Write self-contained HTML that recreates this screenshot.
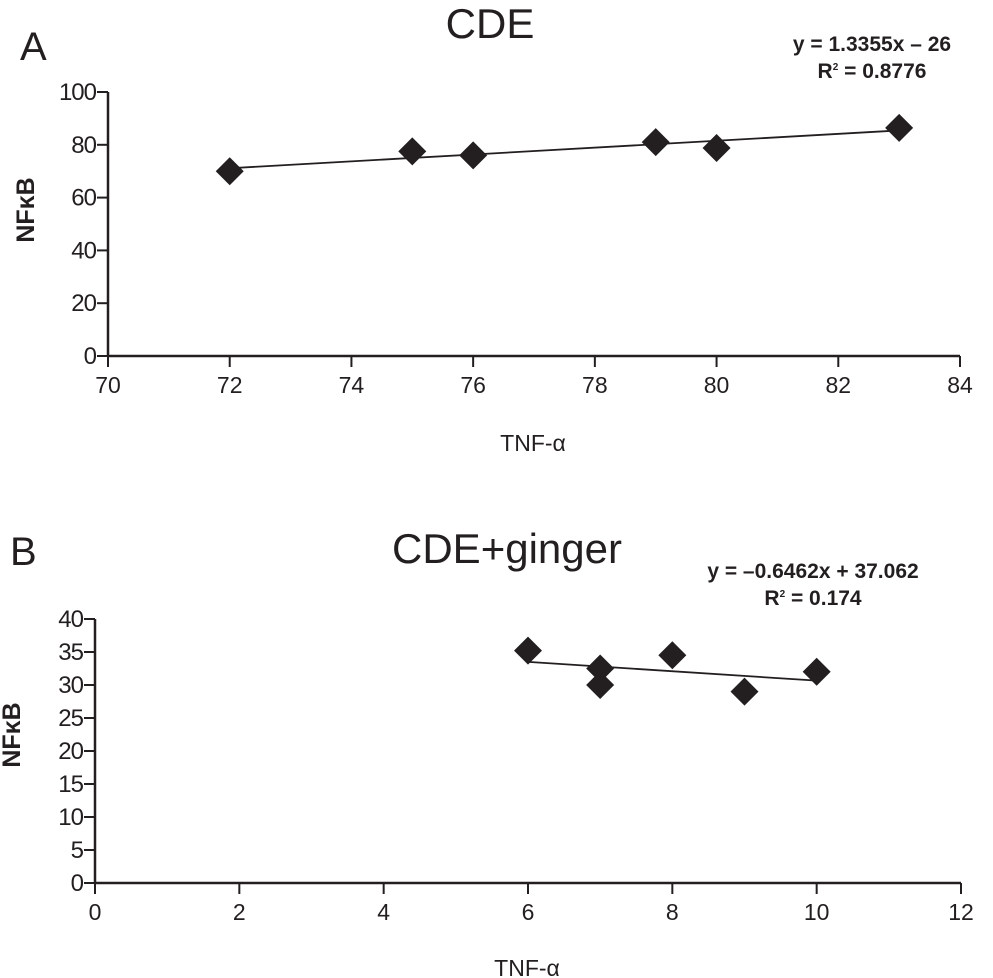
<!DOCTYPE html>
<html><head><meta charset="utf-8"><style>
body{margin:0;background:#fff;}
svg{display:block;font-family:"Liberation Sans",Arial,sans-serif;}
</style></head><body>
<svg id="svg" width="993" height="978" viewBox="0 0 993 978">
<text x="20" y="60" font-size="40" fill="#231f20">A</text>
<text x="490" y="38" font-size="42" text-anchor="middle" fill="#231f20">CDE</text>
<text x="872" y="51" font-size="21" font-weight="bold" text-anchor="middle" fill="#231f20">y = 1.3355x – 26</text>
<text x="872" y="78" font-size="21" font-weight="bold" text-anchor="middle" fill="#231f20">R<tspan font-size="10" dy="-8">2</tspan><tspan dy="8"> = 0.8776</tspan></text>
<text x="533" y="451" font-size="23" text-anchor="middle" fill="#231f20">TNF-α</text>
<text transform="translate(34,210) rotate(-90)" font-size="25" font-weight="bold" text-anchor="middle" fill="#231f20">NFκB</text>
<text x="10" y="565" font-size="40" fill="#231f20">B</text>
<text x="507" y="563" font-size="42" text-anchor="middle" fill="#231f20">CDE+ginger</text>
<text x="813" y="578" font-size="21" font-weight="bold" text-anchor="middle" fill="#231f20">y = –0.6462x + 37.062</text>
<text x="813" y="605" font-size="21" font-weight="bold" text-anchor="middle" fill="#231f20">R<tspan font-size="10" dy="-8">2</tspan><tspan dy="8"> = 0.174</tspan></text>
<text x="527" y="976" font-size="23" text-anchor="middle" fill="#231f20">TNF-α</text>
<text transform="translate(20,735) rotate(-90)" font-size="25" font-weight="bold" text-anchor="middle" fill="#231f20">NFκB</text>
<g id="ga"></g><g id="gb"></g>
</svg>
<script>
const aX=[72,75,76,79,80,83];
const aY=[70,77.5,76,81,78.8,86.4];
const aXTicks=[70,72,74,76,78,80,82,84];
const aYTicks=[0,20,40,60,80,100];
const bX=[6,7,7,8,9,10];
const bY=[35.2,32.5,30,34.5,29,32];
const bXTicks=[0,2,4,6,8,10,12];
const bYTicks=[0,5,10,15,20,25,30,35,40];
const NS="http://www.w3.org/2000/svg";
function mk(g,tag,at){const e=document.createElementNS(NS,tag);for(const k in at)e.setAttribute(k,at[k]);g.appendChild(e);return e;}
function chart(g,px,py,xt,yt,o,p){
 const sx=v=>o.x0+(v-xt[0])/(xt[xt.length-1]-xt[0])*(o.x1-o.x0);
 const sy=v=>o.y0-(v-yt[0])/(yt[yt.length-1]-yt[0])*(o.y0-o.y1);
 let e=mk(g,'line',{x1:o.x0,y1:o.y0,x2:o.x0,y2:o.y1,stroke:'#231f20','stroke-width':2.5});
 
 e=mk(g,'line',{x1:o.x0,y1:o.y0,x2:o.x1,y2:o.y0,stroke:'#231f20','stroke-width':2.5});
 
 yt.forEach(v=>{const y=sy(v);
  e=mk(g,'line',{x1:o.x0-11,y1:y,x2:o.x0,y2:y,stroke:'#231f20','stroke-width':2});
  
  e=mk(g,'text',{x:o.x0-12,y:y+8,'font-size':24,'text-anchor':'end',fill:'#231f20','letter-spacing':-1});e.textContent=v;
  });
 xt.forEach(v=>{const x=sx(v);
  e=mk(g,'line',{x1:x,y1:o.y0,x2:x,y2:o.y0+11,stroke:'#231f20','stroke-width':2});
  
  e=mk(g,'text',{x:x,y:o.y0+37,'font-size':23,'text-anchor':'middle',fill:'#231f20'});e.textContent=v;
  });
 const n=px.length;let mx=0,my=0;for(let i=0;i<n;i++){mx+=px[i]/n;my+=py[i]/n;}
 let sxy=0,sxx=0;for(let i=0;i<n;i++){sxy+=(px[i]-mx)*(py[i]-my);sxx+=(px[i]-mx)**2;}
 const b=sxy/sxx,a=my-b*mx,lo=Math.min(...px),hi=Math.max(...px);
 e=mk(g,'line',{x1:sx(lo),y1:sy(a+b*lo),x2:sx(hi),y2:sy(a+b*hi),stroke:'#231f20','stroke-width':1.8});
 
 for(let i=0;i<n;i++){const x=sx(px[i]),y=sy(py[i]),r=14;
  e=mk(g,'polygon',{points:`${x},${y-r} ${x+r},${y} ${x},${y+r} ${x-r},${y}`,fill:'#231f20'});
  }
}
chart(document.getElementById('ga'),aX,aY,aXTicks,aYTicks,{x0:108,x1:960,y0:356,y1:92},'chart-a');
chart(document.getElementById('gb'),bX,bY,bXTicks,bYTicks,{x0:95,x1:961,y0:883,y1:619},'chart-b');
</script>
</body></html>
